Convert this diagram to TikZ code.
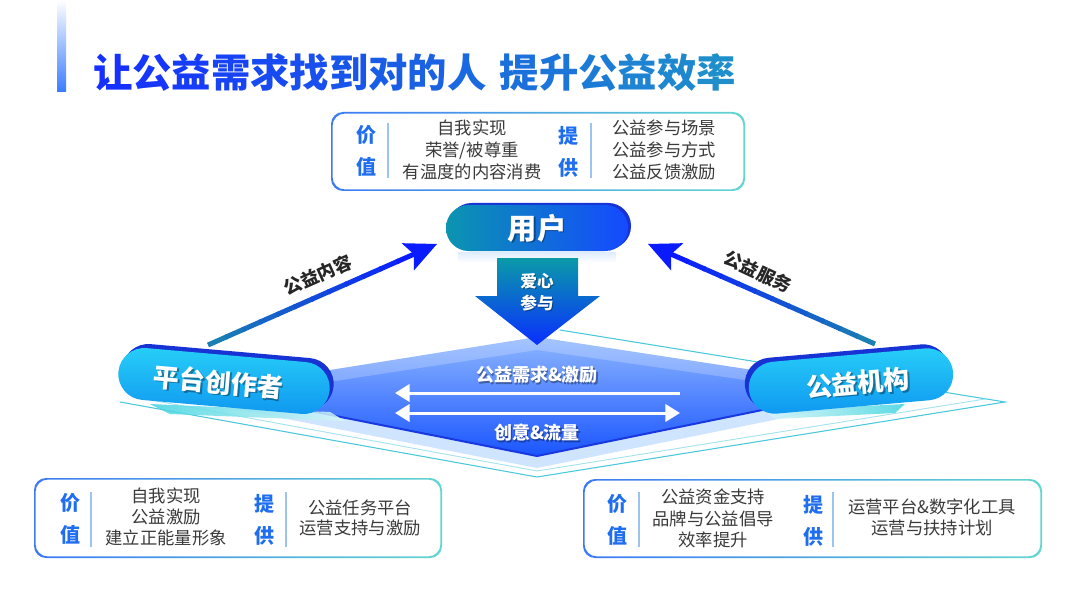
\documentclass[tikz,border=0pt]{standalone}
\usepackage{fontspec}
\setmainfont{Noto Sans CJK SC}
\usetikzlibrary{calc,arrows.meta}
\definecolor{titleA}{HTML}{1530FF}
\definecolor{titleB}{HTML}{1E8FCB}
\definecolor{txtgray}{HTML}{3A3A3A}
\definecolor{valblue}{HTML}{1F6EF0}
\definecolor{divc}{HTML}{9CC4F0}
\definecolor{boxA}{HTML}{3C7AF5}
\definecolor{boxB}{HTML}{62D6D0}
\definecolor{pillTop}{HTML}{27CFF8}
\definecolor{pillBot}{HTML}{0F96F0}
\definecolor{pillDark}{HTML}{1733D4}
\definecolor{userL}{HTML}{0B95B0}
\definecolor{userR}{HTML}{1549FF}
\definecolor{darrT}{HTML}{0A9AA8}
\definecolor{darrB}{HTML}{0A2EFF}
\definecolor{arrTeal}{HTML}{1A7FB2}
\definecolor{arrBlue}{HTML}{0A1CFF}
\definecolor{diaTop}{HTML}{8DB6FF}
\definecolor{diaMid}{HTML}{3F80FF}
\definecolor{diaBot}{HTML}{1A55FF}
\definecolor{diaEdge}{HTML}{1838E0}
\definecolor{bandc}{HTML}{CFE4FF}
\definecolor{outc}{HTML}{4CC8DC}
\definecolor{barA}{HTML}{40D4E0}
\definecolor{barB}{HTML}{3A7CFF}
\newcommand\gradbox[4]{%
  \shade[left color=boxA, right color=boxB, even odd rule, rounded corners=9pt]
    (#1,#2) rectangle (#3,#4) ($(#1,#2)+(1.6,1.6)$) rectangle ($(#3,#4)+(-1.6,-1.6)$);}
\newcommand\pilltxt{\fontsize{19.5pt}{22pt}\selectfont\bfseries}
\tikzset{
  pill/.style={rectangle, rounded corners=19.5pt, minimum width=#1, minimum height=39pt, inner sep=0pt},
  valtxt/.style={text=valblue, font=\fontsize{15pt}{24.5pt}\selectfont\bfseries, align=center, inner sep=0pt},
  graytxt/.style={text=txtgray, align=center, inner sep=0pt},
  divline/.style={draw=divc, line width=0.9pt},
  shadowtxt/.style={text=black, opacity=.35},
  lbl/.style={text=black!85, font=\fontsize{13.5pt}{16pt}\selectfont\bfseries, inner sep=0pt},
  wtxt/.style={text=white, font=\fontsize{13.5pt}{16pt}\selectfont\bfseries, inner sep=0pt},
}
\begin{document}
\begin{tikzpicture}[x=0.75pt,y=-0.75pt]
\useasboundingbox (0,0) rectangle (1080,602);
\fill[white] (0,0) rectangle (1080,602);

% title bar and title
\shade[top color=white, middle color=barA, bottom color=barB] (57,0) rectangle (66,92);
\node[anchor=west, inner sep=0pt, font=\fontsize{29.5pt}{32pt}\selectfont\bfseries] (title) at (93,73)
 {\textcolor{titleB!0!titleA}{让}\textcolor{titleB!7!titleA}{公}\textcolor{titleB!13!titleA}{益}\textcolor{titleB!20!titleA}{需}\textcolor{titleB!27!titleA}{求}\textcolor{titleB!33!titleA}{找}\textcolor{titleB!40!titleA}{到}\textcolor{titleB!47!titleA}{对}\textcolor{titleB!53!titleA}{的}\textcolor{titleB!60!titleA}{人}\hspace{10pt}\textcolor{titleB!67!titleA}{提}\textcolor{titleB!73!titleA}{升}\textcolor{titleB!80!titleA}{公}\textcolor{titleB!87!titleA}{益}\textcolor{titleB!93!titleA}{效}\textcolor{titleB!100!titleA}{率}};

% top box
\gradbox{331}{112}{745}{191}
\node[valtxt] (tv) at (366,151) {价\\值};
\draw[divline] (388,123) -- (388,178);
\node[graytxt, font=\fontsize{13pt}{16.5pt}\selectfont] (tvt) at (472,150) {自我实现\\荣誉/被尊重\\有温度的内容消费};
\node[valtxt] (tp) at (568,152) {提\\供};
\draw[divline] (591,123) -- (591,178);
\node[graytxt, font=\fontsize{13pt}{16.5pt}\selectfont] (tpt) at (664,150) {公益参与场景\\公益参与方式\\公益反馈激励};

% bottom-left box
\gradbox{34}{478}{442}{558}
\node[valtxt] (lv) at (70,519) {价\\值};
\draw[divline] (91,492) -- (91,547);
\node[graytxt, font=\fontsize{13pt}{15.8pt}\selectfont] (lvt) at (166,517) {自我实现\\公益激励\\建立正能量形象};
\node[valtxt] (lp) at (264,520) {提\\供};
\draw[divline] (286,492) -- (286,547);
\node[graytxt, font=\fontsize{13pt}{15.5pt}\selectfont] (lpt) at (360,518) {公益任务平台\\运营支持与激励};

% bottom-right box
\gradbox{583}{479}{1042}{558}
\node[valtxt] (rv) at (617,520) {价\\值};
\draw[divline] (639,492) -- (639,547);
\node[graytxt, font=\fontsize{13pt}{16pt}\selectfont] (rvt) at (713,518.5) {公益资金支持\\品牌与公益倡导\\效率提升};
\node[valtxt] (rp) at (813,521) {提\\供};
\draw[divline] (833,492) -- (833,547);
\node[graytxt, font=\fontsize{13pt}{15.5pt}\selectfont] (rpt) at (932,517.5) {运营平台\&数字化工具\\运营与扶持计划};

% platform diamond
\fill[bandc] (205,390) -- (537,456) -- (870,388) -- (872,400) -- (537,468) -- (200,402) -- cycle;
\draw[outc, line width=0.8pt] (120,402) -- (537,477) -- (1005,402) -- (560,330);
\draw[outc!50, line width=0.7pt] (140,398) -- (537,471) -- (985,399);
\shade[top color=diaTop, middle color=diaMid, bottom color=diaBot] (537,337) -- (870,388) -- (537,456) -- (205,390) -- cycle;
\fill[white, opacity=.22] (205,390) -- (537,337) -- (870,388) -- (870,398) -- (537,350) -- (205,401) -- cycle;
\draw[diaEdge, line width=1.5pt] (205,390) -- (537,456) -- (870,388);

% pill reflections
\shade[left color=barA, right color=barA!20, opacity=.85] (150,404) -- (330,412) -- (345,421) -- (170,414) -- cycle;
\shade[left color=barA!20, right color=barA, opacity=.85] (765,411) -- (905,404) -- (895,413) -- (775,419) -- cycle;
\shade[top color=bandc, bottom color=white, opacity=.7] (458,252) rectangle (616,262);

% user pill
\node[pill=136.5pt, minimum height=34.5pt, rounded corners=17pt, fill=pillDark] (userbk) at (540,226) {};
\node[pill=136.5pt, minimum height=34.5pt, rounded corners=17pt, left color=userL, right color=userR] (user) at (537,228) {};
\node[shadowtxt, font=\fontsize{22pt}{24pt}\selectfont\bfseries] (usersh) at (538.5,229.5) {用户};
\node[text=white, font=\fontsize{22pt}{24pt}\selectfont\bfseries] (usertxt) at (537,228) {用户};

% left pill
\node[pill=159pt, fill=pillDark, rotate=-5] (creatorbk) at (228,377) {};
\node[pill=159pt, top color=pillTop, bottom color=pillBot, rotate=-5] (creator) at (224,381) {};
\node[shadowtxt, font=\pilltxt, rotate=-5] (creatorsh) at (220,383.5) {平台创作者};
\node[text=white, font=\pilltxt, rotate=-5] (creatortxt) at (218.5,382) {平台创作者};

% right pill
\node[pill=153.75pt, fill=pillDark, rotate=5] (orgbk) at (847,377) {};
\node[pill=153.75pt, top color=pillTop, bottom color=pillBot, rotate=5] (org) at (851,381) {};
\node[shadowtxt, font=\pilltxt, rotate=5] (orgsh) at (859.5,384.5) {公益机构};
\node[text=white, font=\pilltxt, rotate=5] (orgtxt) at (858,383) {公益机构};

% down arrow
\shade[top color=darrT, bottom color=darrB] (497,258) -- (578,258) -- (578,296) -- (600,296) -- (537,345) -- (475,296) -- (497,296) -- cycle;
\node[shadowtxt, align=center, font=\fontsize{12.5pt}{16.5pt}\selectfont\bfseries] (lovesh) at (538,293.5) {爱心\\参与};
\node[text=white, align=center, font=\fontsize{12.5pt}{16.5pt}\selectfont\bfseries] (love) at (537,292) {爱心\\参与};

% side arrows
\coordinate (lt) at (208,345);
\coordinate (lh) at (437,244);
\coordinate (rt) at (875,344);
\coordinate (rh) at (648,244);
\coordinate (ln) at ($(lh)!19pt!(lt)$);
\coordinate (lb) at ($(lh)!24pt!(lt)$);
\coordinate (rn) at ($(rh)!19pt!(rt)$);
\coordinate (rb) at ($(rh)!24pt!(rt)$);
\foreach \i in {0,...,11}{
  \pgfmathtruncatemacro\p{\i*100/11}
  \draw[line width=3.75pt, color=arrBlue!\p!arrTeal] ($(lt)!{\i/12}!(ln)$) -- ($(lt)!{(\i+1)/12+0.01}!(ln)$);
  \draw[line width=3.75pt, color=arrBlue!\p!arrTeal] ($(rt)!{\i/12}!(rn)$) -- ($(rt)!{(\i+1)/12+0.01}!(rn)$);
}
\fill[arrBlue] (lh) -- ($(lb)!11.25pt!90:(lh)$) -- (ln) -- ($(lb)!11.25pt!-90:(lh)$) -- cycle;
\fill[arrBlue] (rh) -- ($(rb)!11.25pt!90:(rh)$) -- (rn) -- ($(rb)!11.25pt!-90:(rh)$) -- cycle;
\node[lbl, rotate=24] (lbll) at (318,275) {公益内容};
\node[lbl, rotate=-25] (lblr) at (758,272) {公益服务};

% inner arrows
\coordinate (a1s) at (680,393);
\coordinate (a1e) at (395,393);
\coordinate (a2s) at (395,413);
\coordinate (a2e) at (680,413);
\draw[white, line width=2.25pt, -{Triangle[length=11pt,width=13pt]}] (a1s) -- (a1e);
\draw[white, line width=2.25pt, {Triangle[length=11pt,width=13pt]}-{Triangle[length=11pt,width=13pt]}] (a2s) -- (a2e);
\node[shadowtxt, font=\fontsize{13.5pt}{16pt}\selectfont\bfseries] (dem-sh) at (538.3,376.3) {公益需求\&激励};
\node[wtxt] (dem) at (537,375) {公益需求\&激励};
\node[shadowtxt, font=\fontsize{13.5pt}{16pt}\selectfont\bfseries] (cre-sh) at (538.3,434.3) {创意\&流量};
\node[wtxt] (cre) at (537,433) {创意\&流量};
\end{tikzpicture}
\end{document}
